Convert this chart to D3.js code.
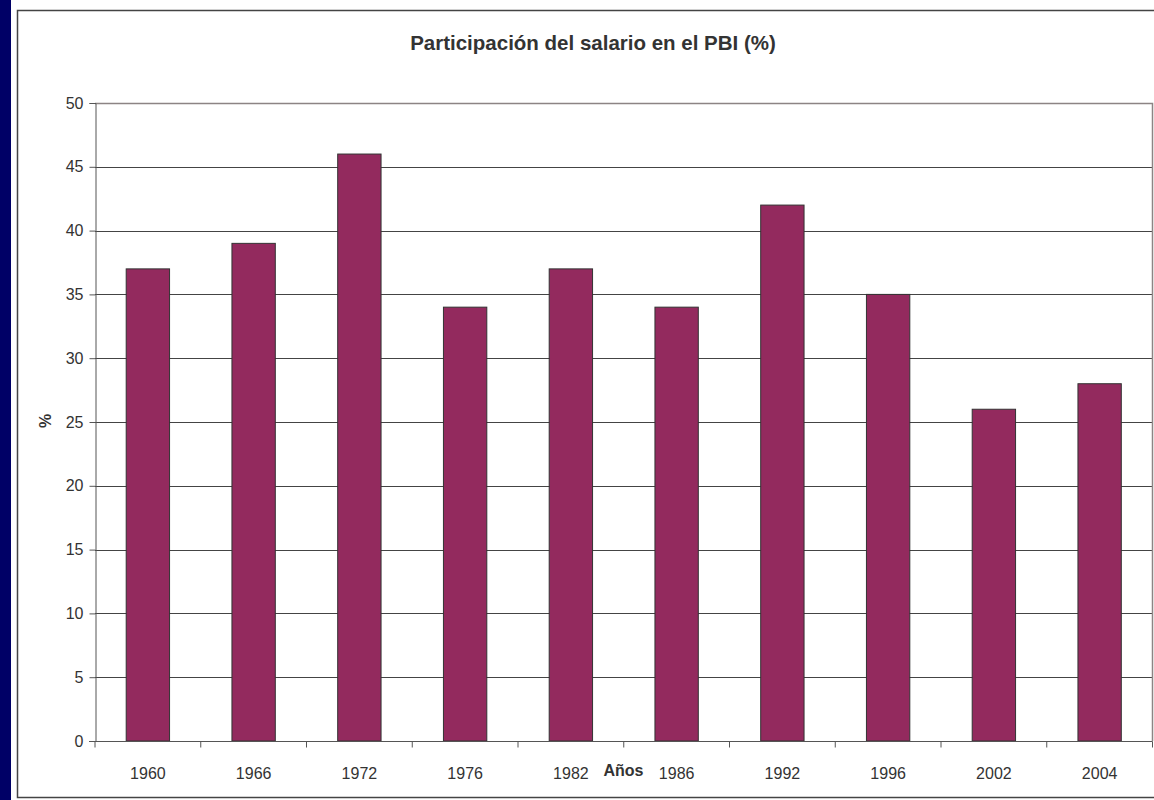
<!DOCTYPE html>
<html>
<head>
<meta charset="utf-8">
<script src="https://cdn.jsdelivr.net/npm/d3@7"></script>
<style>
  body { margin: 0; background: #fff; }
  text { font-family: "Liberation Sans", Arial, sans-serif; fill: #333; }
</style>
</head>
<body>
<svg id="chart" width="1154" height="800"></svg>
<script>
/******************** Data ********************/
var years = ["1960", "1966", "1972", "1976", "1982", "1986", "1992", "1996", "2002", "2004"];
var values = [37, 39, 46, 34, 37, 34, 42, 35, 26, 28];
var yTicks = [0, 5, 10, 15, 20, 25, 30, 35, 40, 45, 50];

/******************** Layout ********************/
var svg = d3.select("#chart");
var plotLeft = 95, plotRight = 1152.5, plotTop = 103, plotBottom = 741;

// navy strip and outer frame
svg.append("rect").attr("x", 0).attr("y", 0).attr("width", 11).attr("height", 800).attr("fill", "#000066");
svg.append("rect").attr("x", 17.5).attr("y", 10.5).attr("width", 1150).attr("height", 787)
   .attr("fill", "#fff").attr("stroke", "#444").attr("stroke-width", 1.5);

var x = d3.scaleBand().domain(years).range([plotLeft, plotRight]).paddingInner(0.59).paddingOuter(0.295);
var y = d3.scaleLinear().domain([0, 50]).range([plotBottom, plotTop]);

// gridlines
svg.append("g").selectAll("line").data(yTicks.slice(1)).enter().append("line")
   .attr("x1", plotLeft).attr("x2", plotRight)
   .attr("y1", function(d){ return Math.round(y(d)) + 0.5; }).attr("y2", function(d){ return Math.round(y(d)) + 0.5; })
   .attr("stroke", "#444").attr("stroke-width", 1);

// plot frame (right + top)
svg.append("path")
   .attr("d", "M" + plotLeft + "," + (plotTop + 0.5) + "H" + plotRight + "V" + plotBottom)
   .attr("fill", "none").attr("stroke", "#8c8484").attr("stroke-width", 1.5);

// bars
svg.append("g").selectAll("rect").data(values).enter().append("rect")
   .attr("x", function(d, i){ return x(years[i]); })
   .attr("y", function(d){ return y(d); })
   .attr("width", x.bandwidth())
   .attr("height", function(d){ return plotBottom - y(d); })
   .attr("fill", "#932a5e").attr("stroke", "#333").attr("stroke-width", 1);

// y axis
var yAxis = svg.append("g").attr("transform", "translate(" + (plotLeft + 0.5) + ",0)")
   .call(d3.axisLeft(y).tickValues(yTicks).tickSize(6).tickPadding(6));
yAxis.select(".domain").attr("stroke", "#555");
yAxis.selectAll(".tick line").attr("stroke", "#555");
yAxis.selectAll("text").style("font-size", "16px").attr("fill", "#333");

// x axis: ticks at band boundaries
var xAxisG = svg.append("g").attr("transform", "translate(0," + (plotBottom + 0.5) + ")");
xAxisG.append("line").attr("x1", plotLeft - 6).attr("x2", plotRight).attr("stroke", "#555");
var step = x.step();
xAxisG.selectAll("line.tk").data(d3.range(0, years.length + 1)).enter().append("line")
   .attr("class", "tk")
   .attr("x1", function(i){ return plotLeft + i * step; }).attr("x2", function(i){ return plotLeft + i * step; })
   .attr("y1", 0).attr("y2", 6).attr("stroke", "#555");
xAxisG.selectAll("text").data(years).enter().append("text")
   .attr("x", function(d){ return x(d) + x.bandwidth() / 2; })
   .attr("y", 37.5).attr("text-anchor", "middle")
   .style("font-size", "16px").text(function(d){ return d; });

// titles
svg.append("text").attr("x", 593).attr("y", 50).attr("text-anchor", "middle")
   .style("font-size", "20.5px").style("font-weight", "bold").text("Participación del salario en el PBI (%)");
svg.append("text").attr("x", 623.5).attr("y", 776).attr("text-anchor", "middle")
   .style("font-size", "16px").style("font-weight", "bold").text("Años");
svg.append("text").attr("transform", "translate(51,421) rotate(-90)").attr("text-anchor", "middle")
   .style("font-size", "16px").style("font-weight", "bold").text("%");
</script>
</body>
</html>
